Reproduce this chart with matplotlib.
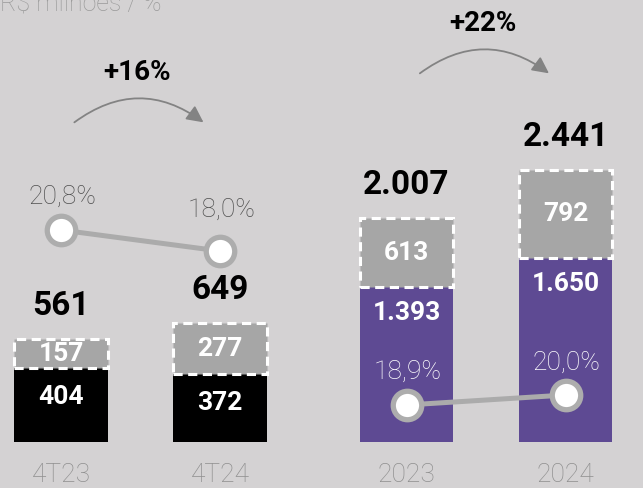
import numpy as np
import matplotlib
matplotlib.use("Agg")
from matplotlib import pyplot as plt

# data
q_labels = ["4T23", "4T24"]
q_base = [404, 372]
q_extra = [157, 277]
q_total = [561, 649]
q_margin = [20.8, 18.0]
q_growth = "+16%"

y_labels = ["2023", "2024"]
y_base = [1393, 1650]
y_extra = [613, 792]
y_total = [2007, 2441]
y_margin = [18.9, 20.0]
y_growth = "+22%"

BG = "#d4d2d3"
GREY = "#a6a6a6"
PURPLE = "#5e4a93"
FONT = "Roboto"


def fmt_int(v):
    return f"{v:,}".replace(",", ".")


def fmt_pct(v):
    return f"{v:.1f}%".replace(".", ",")


def draw_group(ax, labels, base, extra, total, margin, base_color, margin_color,
               ylim, mlim, xlim, pct_offsets, base_offset, growth, arrow_y):
    x = np.arange(len(labels))
    w = 0.59
    ax.bar(x, base, width=w, color=base_color, zorder=2)
    ax.bar(x, extra, bottom=base, width=w, color=GREY, edgecolor="white",
           linewidth=2.2, linestyle=(0, (3, 1.8)), zorder=3)
    ax.set_xlim(*xlim)
    ax.set_ylim(*ylim)
    ax.axis("off")

    for i in range(len(x)):
        ax.annotate(fmt_int(total[i]), (x[i], total[i]), xytext=(0, 24),
                    textcoords="offset points", ha="center", va="center",
                    fontsize=24, fontweight="bold", color="black", family=FONT)
        ax.text(x[i], base[i] + extra[i] / 2, fmt_int(extra[i]), ha="center",
                va="center", fontsize=19, fontweight="bold", color="white",
                family=FONT, zorder=5)
        ax.annotate(fmt_int(base[i]), (x[i], base[i]), xytext=(0, base_offset),
                    textcoords="offset points", ha="center", va="center",
                    fontsize=19, fontweight="bold", color="white", family=FONT,
                    zorder=5)
        ax.text(x[i], 13 / 488, labels[i], transform=ax.get_xaxis_transform(),
                ha="center", va="center", fontsize=19, color="#8f8f8f",
                family=FONT, fontweight="light")

    # growth arrow
    ax.annotate("", xy=(x[1] - 0.09, arrow_y), xytext=(x[0] + 0.07, arrow_y),
                arrowprops=dict(arrowstyle="-|>,head_length=1.0,head_width=0.5",
                                color="#838383", lw=1.3,
                                connectionstyle="arc3,rad=-0.38"))
    ax.annotate(growth, ((x[0] + x[1]) / 2 - 0.02, arrow_y), xytext=(0, 37),
                textcoords="offset points", ha="center", va="center",
                fontsize=20, fontweight="bold", color="black", family=FONT)

    tw = ax.twinx()
    tw.set_ylim(*mlim)
    tw.axis("off")
    tw.plot(x, margin, color="#ababab", lw=3.6, marker="o", ms=20.5,
            mfc="white", mec="#adadad", mew=3.8, zorder=4)
    for i in range(len(x)):
        tw.annotate(fmt_pct(margin[i]), (x[i], margin[i]), xytext=(1, pct_offsets[i]),
                    textcoords="offset points", ha="center", va="center",
                    fontsize=19, color=margin_color, family=FONT,
                    fontweight="light")


fig = plt.figure(figsize=(6.43, 4.88), dpi=100)
fig.patch.set_facecolor(BG)

ax1 = fig.add_axes([0, 0, 320 / 643, 1])
ax2 = fig.add_axes([320 / 643, 0, 323 / 643, 1])

s1 = 0.182
s2 = 0.1112
draw_group(ax1, q_labels, q_base, q_extra, q_total, q_margin, "black", "#4f4f4f",
           (-46.5 / s1, 441.5 / s1), (-13.6, 51.47),
           (-61 / 159, 259 / 159), [24, 30], -21, q_growth, (364 - 46.5) / s1)
draw_group(ax2, y_labels, y_base, y_extra, y_total, y_margin, PURPLE, "white",
           (-46.5 / s2, 441.5 / s2), (9.77, 63.45),
           (-86.5 / 159, 236.5 / 159), [24, 23], -19, y_growth, (413 - 46.5) / s2)

fig.text(0.0, 1 - 11 / 488, "R$ milhões / %", ha="left", va="baseline",
         fontsize=18, color="#9a9a9a", family=FONT, fontweight="light")

fig.savefig("out.png", dpi=100, facecolor=BG)
